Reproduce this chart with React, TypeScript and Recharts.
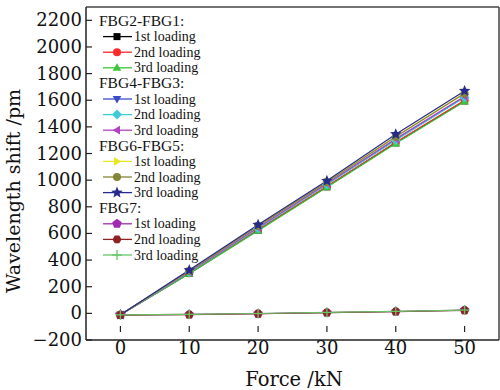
import React from 'react';
import {
  LineChart,
  Line,
  XAxis,
  YAxis,
  ReferenceLine,
  Label,
} from 'recharts';

// force steps (kN)
const force = [0, 10, 20, 30, 40, 50];

const groups = ['FBG2-FBG1:', 'FBG4-FBG3:', 'FBG6-FBG5:', 'FBG7:'];
const loadings = ['1st loading', '2nd loading', '3rd loading'];

// wavelength shift (pm)
const fbg21First = [-10, 300, 625, 950, 1280, 1595];
const fbg21Second = [-10, 302, 628, 955, 1285, 1600];
const fbg21Third = [-10, 298, 620, 946, 1276, 1590];
const fbg43First = [-10, 310, 640, 970, 1305, 1625];
const fbg43Second = [-10, 308, 637, 967, 1300, 1620];
const fbg43Third = [-10, 312, 645, 975, 1310, 1630];
const fbg65First = [-10, 320, 658, 988, 1328, 1655];
const fbg65Second = [-10, 318, 655, 985, 1325, 1650];
const fbg65Third = [-10, 325, 665, 995, 1345, 1670];
const fbg7First = [-12, -8, -2, 6, 14, 24];
const fbg7Second = [-13, -9, -3, 5, 13, 23];
const fbg7Third = [-11, -7, -1, 7, 15, 25];

const yTicks = [-200, 0, 200, 400, 600, 800, 1000, 1200, 1400, 1600, 1800, 2000, 2200];
const xTicks = [0, 10, 20, 30, 40, 50];

type Shape =
  | 'square' | 'circle' | 'triUp' | 'triDown' | 'diamond' | 'triLeft'
  | 'triRight' | 'star' | 'pentagon' | 'hexagon' | 'plus';

const series: { key: string; group: number; values: number[]; color: string; shape: Shape }[] = [
  { key: 's0', group: 0, values: fbg21First, color: '#000000', shape: 'square' },
  { key: 's1', group: 0, values: fbg21Second, color: '#ff2a2a', shape: 'circle' },
  { key: 's2', group: 0, values: fbg21Third, color: '#3cc43c', shape: 'triUp' },
  { key: 's3', group: 1, values: fbg43First, color: '#3a4cc8', shape: 'triDown' },
  { key: 's4', group: 1, values: fbg43Second, color: '#3fcad6', shape: 'diamond' },
  { key: 's5', group: 1, values: fbg43Third, color: '#b044c0', shape: 'triLeft' },
  { key: 's6', group: 2, values: fbg65First, color: '#e6e62a', shape: 'triRight' },
  { key: 's7', group: 2, values: fbg65Second, color: '#85853a', shape: 'circle' },
  { key: 's8', group: 2, values: fbg65Third, color: '#262a8c', shape: 'star' },
  { key: 's9', group: 3, values: fbg7First, color: '#a02ab0', shape: 'pentagon' },
  { key: 's10', group: 3, values: fbg7Second, color: '#8e2222', shape: 'hexagon' },
  { key: 's11', group: 3, values: fbg7Third, color: '#66c466', shape: 'plus' },
];

const data = force.map((f, i) => {
  const row: Record<string, number> = { force: f };
  series.forEach((s) => {
    row[s.key] = s.values[i];
  });
  return row;
});

const poly = (cx: number, cy: number, r: number, n: number, rot: number) =>
  Array.from({ length: n }, (_, k) => {
    const a = rot + (k * 2 * Math.PI) / n;
    return `${cx + r * Math.cos(a)},${cy + r * Math.sin(a)}`;
  }).join(' ');

const starPts = (cx: number, cy: number, r: number) =>
  Array.from({ length: 10 }, (_, k) => {
    const a = -Math.PI / 2 + (k * Math.PI) / 5;
    const rr = k % 2 === 0 ? r : r * 0.45;
    return `${cx + rr * Math.cos(a)},${cy + rr * Math.sin(a)}`;
  }).join(' ');

const Marker = ({ cx, cy, shape, color }: { cx: number; cy: number; shape: Shape; color: string }) => {
  if (cx == null || cy == null) return null;
  switch (shape) {
    case 'square':
      return <rect x={cx - 3.5} y={cy - 3.5} width={7} height={7} fill={color} />;
    case 'circle':
      return <circle cx={cx} cy={cy} r={4} fill={color} />;
    case 'triUp':
      return <polygon points={poly(cx, cy + 0.5, 5, 3, -Math.PI / 2)} fill={color} />;
    case 'triDown':
      return <polygon points={poly(cx, cy - 0.5, 5, 3, Math.PI / 2)} fill={color} />;
    case 'triLeft':
      return <polygon points={poly(cx + 0.5, cy, 5, 3, Math.PI)} fill={color} />;
    case 'triRight':
      return <polygon points={poly(cx - 0.5, cy, 5, 3, 0)} fill={color} />;
    case 'diamond':
      return <polygon points={poly(cx, cy, 5, 4, 0)} fill={color} />;
    case 'star':
      return <polygon points={starPts(cx, cy, 6)} fill={color} />;
    case 'pentagon':
      return <polygon points={poly(cx, cy, 5, 5, -Math.PI / 2)} fill={color} />;
    case 'hexagon':
      return <polygon points={poly(cx, cy, 4.5, 6, 0)} fill={color} />;
    case 'plus':
      return (
        <g stroke={color} strokeWidth={1.3}>
          <line x1={cx - 5} y1={cy} x2={cx + 5} y2={cy} />
          <line x1={cx} y1={cy - 5} x2={cx} y2={cy + 5} />
        </g>
      );
    default:
      return null;
  }
};

const tickFont = { fontFamily: '"DejaVu Serif", serif', fontSize: 18, fill: '#111' };

const YTick = (props: any) => {
  const { x, y, payload } = props;
  const label = String(payload.value).replace('-', '\u2212');
  return (
    <g>
      <line x1={x + 4} y1={y} x2={x + 10} y2={y} stroke="#222" strokeWidth={1.2} />
      <text x={x} y={y} dy={6} textAnchor="end" {...tickFont}>
        {label}
      </text>
    </g>
  );
};

const XTick = (props: any) => {
  const { x, y, payload } = props;
  return (
    <g>
      <line x1={x} y1={y - 8} x2={x} y2={y - 14} stroke="#222" strokeWidth={1.2} />
      <text x={x} y={y} dy={14} textAnchor="middle" {...tickFont}>
        {payload.value}
      </text>
    </g>
  );
};

const LegendBox = () => {
  const rowH = 15.6;
  let row = 0;
  const items: React.ReactNode[] = [];
  groups.forEach((g, gi) => {
    const y = 21 + row * rowH;
    items.push(
      <text key={`g${gi}`} x={0} y={y} dy={5} fontFamily='"Liberation Serif", serif' fontSize={15.5} fill="#111">
        {g}
      </text>,
    );
    row += 1;
    series
      .filter((s) => s.group === gi)
      .forEach((s, li) => {
        const yy = 21 + row * rowH;
        items.push(
          <g key={s.key}>
            <line x1={4} y1={yy} x2={33} y2={yy} stroke={s.color} strokeWidth={1.3} />
            <Marker cx={18} cy={yy} shape={s.shape} color={s.color} />
            <text x={35} y={yy} dy={4.5} fontFamily='"Liberation Serif", serif' fontSize={14} fill="#111">
              {loadings[li]}
            </text>
          </g>,
        );
        row += 1;
      });
  });
  return (
    <svg
      width={130}
      height={270}
      style={{ position: 'absolute', left: 99, top: 0, overflow: 'visible' }}
    >
      {items}
    </svg>
  );
};

const App: React.FC = () => {
  return (
    <div style={{ position: 'absolute', left: 0, top: 0, width: 500, height: 390, background: '#fff' }}>
      <LineChart width={500} height={390} data={data} margin={{ top: 7, right: 1, bottom: 0, left: 0 }}>
        <XAxis
          dataKey="force"
          type="number"
          domain={[-5, 55]}
          ticks={xTicks}
          tickSize={0}
          tickMargin={0}
          tickLine={false}
          tick={<XTick />}
          height={50}
          stroke="#222"
          strokeWidth={1.5}
        >
          <Label
            content={() => (
              <text x={294} y={386} textAnchor="middle" fontFamily='"DejaVu Serif", serif' fontSize={19.5} fill="#111">
                Force /kN
              </text>
            )}
          />
        </XAxis>
        <YAxis
          type="number"
          domain={[-200, 2300]}
          ticks={yTicks}
          tickSize={0}
          tickMargin={4}
          tickLine={false}
          tick={<YTick />}
          width={86}
          stroke="#222"
          strokeWidth={1.5}
        >
          <Label
            content={() => (
              <text
                x={20}
                y={191}
                transform="rotate(-90 20 191)"
                textAnchor="middle"
                fontFamily='"DejaVu Serif", serif'
                fontSize={19}
                fill="#111"
              >
                Wavelength shift /pm
              </text>
            )}
          />
        </YAxis>
        <ReferenceLine y={2300} stroke="#444" strokeWidth={1.5} />
        <ReferenceLine x={55} stroke="#444" strokeWidth={1.5} />
        {series.map((s) => (
          <Line
            key={s.key}
            type="linear"
            dataKey={s.key}
            stroke={s.color}
            strokeWidth={1.2}
            isAnimationActive={false}
            activeDot={false}
            dot={(p: any) => (
              <Marker key={`${s.key}-${p.index}`} cx={p.cx} cy={p.cy} shape={s.shape} color={s.color} />
            )}
          />
        ))}
      </LineChart>
      <LegendBox />
    </div>
  );
};

export default App;
